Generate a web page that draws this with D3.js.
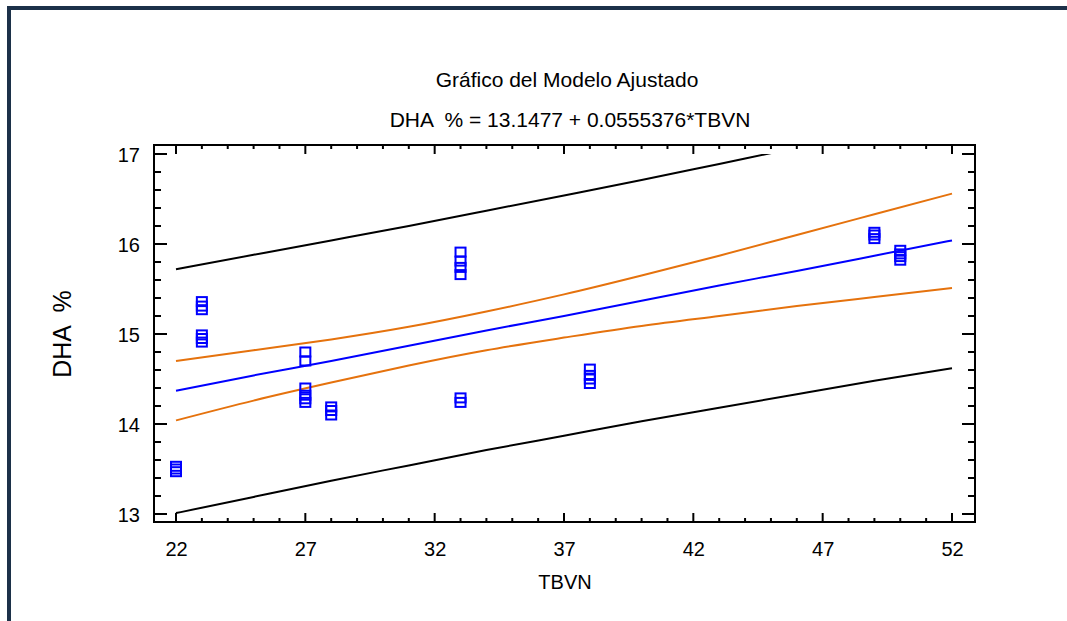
<!DOCTYPE html>
<html>
<head>
<meta charset="utf-8">
<script src="https://cdn.jsdelivr.net/npm/d3@7"></script>
<style>
  html, body { margin: 0; padding: 0; background: #fff; }
  svg { display: block; font-family: "Liberation Sans", Arial, sans-serif; }
</style>
</head>
<body>
<svg id="chart" width="1067" height="621"></svg>
<script>
// ---- data ----
const title = "Gráfico del Modelo Ajustado";
const subtitle = "DHA  % = 13.1477 + 0.0555376*TBVN";
const xLabel = "TBVN";
const yLabel = "DHA  %";

const xTicks = [22, 27, 32, 37, 42, 47, 52];
const yTicks = [13, 14, 15, 16, 17];

// observed points
const obsTBVN = [22, 22, 22,
  23, 23, 23, 23, 23, 23,
  27, 27, 27, 27, 27, 27,
  28, 28, 28,
  33, 33, 33, 33, 33, 33,
  38, 38, 38, 38,
  49, 49, 49,
  50, 50, 50, 50];
const obsDHA = [13.47, 13.50, 13.53,
  15.27, 15.31, 15.36, 14.91, 14.95, 14.99,
  14.70, 14.80, 14.24, 14.28, 14.32, 14.40,
  14.10, 14.15, 14.19,
  15.66, 15.74, 15.81, 15.91, 14.24, 14.29,
  14.45, 14.50, 14.54, 14.61,
  16.06, 16.10, 16.13,
  15.82, 15.86, 15.89, 15.93];

// curves sampled along TBVN
const curveX      = [22, 25, 28, 31, 34, 37, 40, 43, 46, 49, 52];
const fitted      = [14.37, 14.54, 14.70, 14.87, 15.04, 15.20, 15.37, 15.54, 15.70, 15.87, 16.04];
const confUpper   = [14.70, 14.82, 14.94, 15.08, 15.25, 15.44, 15.65, 15.87, 16.10, 16.33, 16.56];
const confLower   = [14.04, 14.26, 14.46, 14.65, 14.82, 14.96, 15.09, 15.20, 15.31, 15.41, 15.51];
const predUpper   = [15.72, 15.88, 16.04, 16.20, 16.37, 16.54, 16.71, 16.89, 17.07, 17.26, 17.45];
const predLower   = [13.01, 13.19, 13.37, 13.54, 13.71, 13.87, 14.03, 14.18, 14.33, 14.48, 14.62];

// ---- layout ----
const svg = d3.select("#chart");
const frame = { left: 154, right: 975, top: 145, bottom: 522 };

const x = d3.scaleLinear().domain([22, 52]).range([176, 952]);
const y = d3.scaleLinear().domain([13, 17]).range([514, 154]);

// outer border
svg.append("rect")
  .attr("x", 9).attr("y", 8)
  .attr("width", 1067).attr("height", 700)
  .attr("fill", "none")
  .attr("stroke", "#1c3149")
  .attr("stroke-width", 4);

// titles
svg.append("text")
  .attr("x", 567).attr("y", 87)
  .attr("text-anchor", "middle")
  .attr("font-size", 21)
  .attr("fill", "#000")
  .text(title);

svg.append("text")
  .attr("x", 570).attr("y", 127)
  .attr("text-anchor", "middle")
  .attr("font-size", 21)
  .attr("fill", "#000")
  .style("white-space", "pre")
  .text(subtitle);

// clip for curves
svg.append("clipPath").attr("id", "plotclip")
  .append("rect")
  .attr("x", frame.left).attr("y", y(17))
  .attr("width", frame.right - frame.left)
  .attr("height", frame.bottom - y(17));

const line = d3.line()
  .x(d => x(d[0]))
  .y(d => y(d[1]))
  .curve(d3.curveNatural);

const curves = [
  { vals: predUpper, color: "#000000" },
  { vals: predLower, color: "#000000" },
  { vals: confUpper, color: "#e5720d" },
  { vals: confLower, color: "#e5720d" },
  { vals: fitted,    color: "#0000ff" }
];

const gCurves = svg.append("g").attr("clip-path", "url(#plotclip)");
curves.forEach(c => {
  gCurves.append("path")
    .datum(curveX.map((v, i) => [v, c.vals[i]]))
    .attr("d", line)
    .attr("fill", "none")
    .attr("stroke", c.color)
    .attr("stroke-width", 2);
});

// points
svg.append("g").selectAll("rect")
  .data(obsTBVN.map((v, i) => [v, obsDHA[i]]))
  .join("rect")
  .attr("x", d => x(d[0]) - 5)
  .attr("y", d => y(d[1]) - 4.5)
  .attr("width", 10)
  .attr("height", 9)
  .attr("fill", "none")
  .attr("stroke", "#0000ff")
  .attr("stroke-width", 2);

// frame
svg.append("rect")
  .attr("x", frame.left).attr("y", frame.top)
  .attr("width", frame.right - frame.left)
  .attr("height", frame.bottom - frame.top)
  .attr("fill", "none")
  .attr("stroke", "#000")
  .attr("stroke-width", 2);

// ticks
const xMinor = d3.range(22, 53, 1);
const yMinor = d3.range(13, 17.001, 0.2);
const gt = svg.append("g").attr("stroke", "#000").attr("stroke-width", 2);

xMinor.forEach(v => {
  const major = xTicks.includes(v);
  const len = major ? 9 : 4;
  gt.append("line").attr("x1", x(v)).attr("x2", x(v))
    .attr("y1", frame.bottom).attr("y2", frame.bottom - len);
  gt.append("line").attr("x1", x(v)).attr("x2", x(v))
    .attr("y1", frame.top).attr("y2", frame.top + len);
});
yMinor.forEach(v => {
  const major = yTicks.some(t => Math.abs(t - v) < 1e-6);
  const len = major ? 13 : 7;
  gt.append("line").attr("y1", y(v)).attr("y2", y(v))
    .attr("x1", frame.left).attr("x2", frame.left + len);
  gt.append("line").attr("y1", y(v)).attr("y2", y(v))
    .attr("x1", frame.right).attr("x2", frame.right - len);
});

// tick labels via axes (no domain / lines)
const xAxis = d3.axisBottom(x).tickValues(xTicks).tickSize(0).tickPadding(0).tickFormat(d3.format("d"));
const gx = svg.append("g").attr("transform", `translate(0, ${frame.bottom + 34})`).call(xAxis);
gx.select(".domain").remove();
gx.selectAll("text").attr("font-size", 20).attr("font-family", "Liberation Sans, Arial, sans-serif").attr("fill", "#000").attr("dy", 0);

const yAxis = d3.axisLeft(y).tickValues(yTicks).tickSize(0).tickPadding(0).tickFormat(d3.format("d"));
const gy = svg.append("g").attr("transform", `translate(${frame.left - 14}, 0)`).call(yAxis);
gy.select(".domain").remove();
gy.selectAll("text").attr("font-size", 20).attr("font-family", "Liberation Sans, Arial, sans-serif").attr("fill", "#000").attr("dy", "0.35em");

// axis titles
svg.append("text")
  .attr("x", 565).attr("y", 589)
  .attr("text-anchor", "middle")
  .attr("font-size", 20)
  .attr("fill", "#000")
  .text(xLabel);

svg.append("text")
  .attr("transform", "translate(71, 334) rotate(-90)")
  .attr("text-anchor", "middle")
  .attr("font-size", 25)
  .attr("fill", "#000")
  .style("white-space", "pre")
  .text(yLabel);
</script>
</body>
</html>
